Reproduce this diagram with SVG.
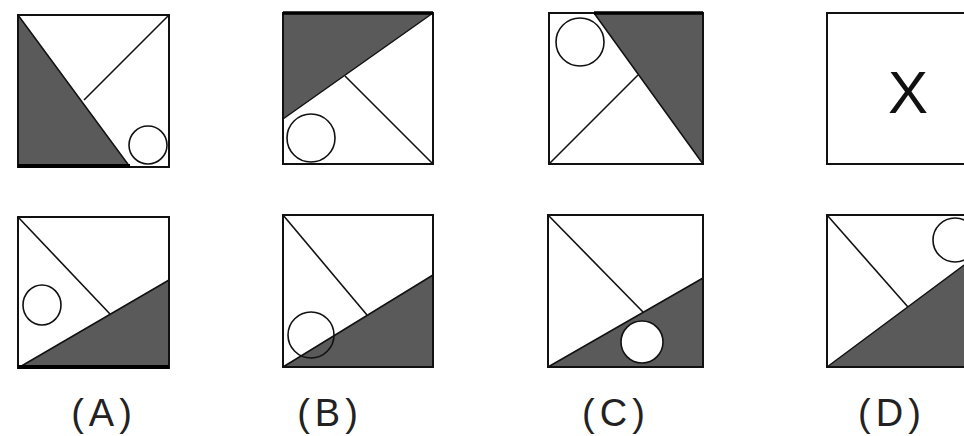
<svg xmlns="http://www.w3.org/2000/svg" width="964" height="436" viewBox="0 0 964 436">
<style>
.frame{fill:none;stroke:#111;stroke-width:2}
.dark{fill:#5a5a5a;stroke:#111;stroke-width:1.5;stroke-linejoin:round}
.ln{stroke:#111;stroke-width:1.6;fill:none}
.circ{fill:none;stroke:#111;stroke-width:1.6}
.circw{fill:#fff;stroke:#111;stroke-width:1.6}
.lbl{font-family:"Liberation Sans",Arial,sans-serif;font-size:38px;fill:#222;text-anchor:middle;letter-spacing:5px}
.x{font-family:"Liberation Sans",Arial,sans-serif;font-size:60px;fill:#111;text-anchor:middle}
</style>
<rect width="964" height="436" fill="#fff"/>
<g id="q1">
<polygon class="dark" points="18,15 130,167 18,167"/>
<line class="ln" x1="169" y1="15" x2="84" y2="100"/>
<circle class="circ" cx="148" cy="145" r="19"/>
<rect class="frame" x="18" y="15" width="151" height="152"/>
<line x1="18" y1="166" x2="130" y2="166" stroke="#000" stroke-width="4"/>
</g>
<g id="q2">
<polygon class="dark" points="283,13 433,13 283,119"/>
<line class="ln" x1="345" y1="76" x2="433" y2="164"/>
<circle class="circ" cx="311" cy="138" r="24"/>
<rect class="frame" x="283" y="13" width="150" height="151"/>
<line x1="283" y1="13" x2="433" y2="13" stroke="#000" stroke-width="3.5"/>
</g>
<g id="q3">
<polygon class="dark" points="594,13 703,13 703,164"/>
<line class="ln" x1="549" y1="164" x2="638" y2="75"/>
<circle class="circ" cx="580" cy="42" r="24"/>
<rect class="frame" x="549" y="13" width="154" height="151"/>
<line x1="594" y1="13" x2="703" y2="13" stroke="#000" stroke-width="3.5"/>
</g>
<g id="q4">
<rect class="frame" x="827" y="13" width="152" height="151"/>
<text class="x" x="908" y="113">X</text>
</g>
<g id="optA">
<polygon class="dark" points="18,368 169,280 169,368"/>
<line class="ln" x1="18" y1="217" x2="110" y2="314"/>
<ellipse class="circ" cx="42" cy="305" rx="19" ry="20"/>
<rect class="frame" x="18" y="217" width="151" height="151"/>
<line x1="18" y1="367" x2="169" y2="367" stroke="#000" stroke-width="4"/>
<text class="lbl" x="104" y="426">(A)</text>
</g>
<g id="optB">
<polygon class="dark" points="283,367 433,275 433,367"/>
<line class="ln" x1="283" y1="215" x2="367" y2="315"/>
<circle class="circ" cx="311" cy="335" r="23"/>
<rect class="frame" x="283" y="215" width="150" height="152"/>
<text class="lbl" x="330" y="426">(B)</text>
</g>
<g id="optC">
<polygon class="dark" points="548,367 703,278 703,367"/>
<line class="ln" x1="548" y1="215" x2="643" y2="312"/>
<circle class="circw" cx="642" cy="342" r="21"/>
<rect class="frame" x="548" y="215" width="155" height="152"/>
<text class="lbl" x="616" y="426">(C)</text>
</g>
<g id="optD">
<polygon class="dark" points="827,367 979,254 979,367"/>
<line class="ln" x1="827" y1="215" x2="908" y2="307"/>
<circle class="circ" cx="955" cy="240" r="22"/>
<rect class="frame" x="827" y="215" width="152" height="152"/>
<text class="lbl" x="892" y="426">(D)</text>
</g>
</svg>
